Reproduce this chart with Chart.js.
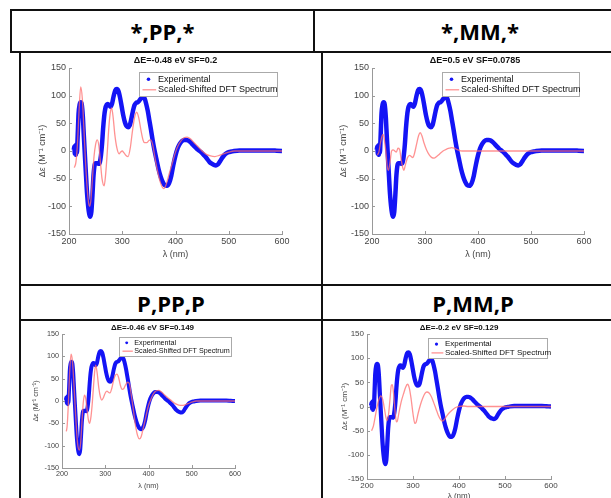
<!DOCTYPE html>
<html>
<head>
<meta charset="utf-8">
<script src="https://cdn.jsdelivr.net/npm/chart.js@4"></script>
<style>
  html, body { margin: 0; padding: 0; background: #fff; overflow: hidden; width: 611px; height: 498px; }
  .ln { position: absolute; background: #111; }
  .hd { position: absolute; display: flex; align-items: center; justify-content: center;
        font-family: 'Open Sans', sans-serif; font-weight: 700; font-size: 22px; color: #000; }
  canvas { position: absolute; }
</style>
</head>
<body>
<!-- table lines -->
<div class="ln" style="left:10px;top:9px;width:640px;height:2px"></div>
<div class="ln" style="left:10px;top:51px;width:640px;height:2px"></div>
<div class="ln" style="left:10px;top:9px;width:2px;height:44px"></div>
<div class="ln" style="left:313px;top:9px;width:2px;height:44px"></div>
<div class="ln" style="left:19px;top:51px;width:2px;height:460px"></div>
<div class="ln" style="left:321px;top:51px;width:2px;height:460px"></div>
<div class="ln" style="left:19px;top:284px;width:620px;height:2px"></div>
<div class="ln" style="left:19px;top:319px;width:620px;height:2px"></div>

<div class="hd" style="left:12px;top:11px;width:301px;height:40px">*,PP,*</div>
<div class="hd" style="left:315px;top:11px;width:330px;height:40px">*,MM,*</div>
<div class="hd" style="left:21px;top:286px;width:300px;height:33px">P,PP,P</div>
<div class="hd" style="left:323px;top:286px;width:300px;height:33px">P,MM,P</div>

<canvas id="c1"></canvas>
<canvas id="c2"></canvas>
<canvas id="c3"></canvas>
<canvas id="c4"></canvas>

<script>
// experimental CD spectrum (same in every panel)
const expNm = [209,210,211,212,213,214,215,216,217,218,
  220,222,224,226,228,230,232,234,236,238,240,242,244,246,248,250,
  253,256,258,260,262,264,266,268,
  271,273,275,278,281,284,287,290,293,296,299,302,305,308,311,314,317,320,323,326,329,332,
  336,339,342,345,348,351,354,357,360,
  364,368,372,376,380,384,388,392,396,400,404,408,412,416,420,424,428,432,436,440,444,448,
  452,456,460,464,468,472,476,480,484,488,492,496,500,
  505,510,520,530,540,550,560,570,580,590,600]
const expDe = [2,8,-5,10,-7,12,-3,20,45,68,
  84,88,84,62,25,-10,-45,-78,-100,-114,-119,-110,-80,-45,-26,-22,
  -22,-23,-20,-8,12,40,62,76,
  84,85,83,80,86,100,110,112,108,96,80,64,52,45,43,46,58,72,83,87,88,91,
  96,98,95,85,72,55,38,20,4,
  -14,-32,-46,-56,-62,-63,-58,-45,-25,-8,5,13,18,20,20,19,16,12,8,4,1,-2,
  -6,-10,-15,-20,-23,-25,-26,-24,-18,-12,-7,-4,-2,
  -1,0,1,1,1,1,1,1,1,0.5,0]

// scaled-shifted DFT spectra
const ppStarNm = [210,213,216,219,222,225,228,231,234,237,239,241,244,247,250,253,256,259,262,266,
  269,272,275,278,280,283,286,290,294,297,300,303,307,311,315,319,323,327,331,335,
  339,342,346,350,353,357,361,366,371,375,378,382,387,393,400,405,410,416,422,428,
  435,442,450,458,466,474,482,490,500,510,600]
const ppStarDe = [-30,-20,15,75,116,95,40,-20,-65,-95,-100,-90,-50,-10,12,20,10,-20,-50,-63,
  -40,0,45,72,78,60,30,5,-5,-2,0,-3,-8,-10,5,35,60,70,60,38,
  20,15,15,19,20,12,-10,-35,-55,-65,-68,-62,-45,-25,-2,10,18,24,25,22,
  15,8,0,-6,-9,-10,-8,-5,-2,0,0]

const mmStarNm = [210,213,216,219,221,223,226,229,231,234,237,240,243,246,249,252,255,258,260,263,
  267,271,274,277,280,284,288,291,294,298,303,308,313,317,322,328,334,340,346,350,
  355,362,370,600]
const mmStarDe = [-7,-2,15,27,30,22,0,-30,-35,-20,0,2,0,-2,5,3,-15,-30,-35,-25,
  -12,-8,-10,-12,-5,12,28,33,28,15,2,-7,-12,-13,-10,-5,0,3,5,6,
  5,2,0,0]

const pPPpNm = [210,212,215,218,221,224,228,232,236,240,243,246,249,252,255,258,261,264,267,270,
  273,276,278,281,285,289,292,296,300,304,308,311,315,319,323,327,331,335,339,343,
  347,352,356,360,365,370,375,379,383,388,394,400,406,412,418,424,430,438,446,454,
  462,470,478,486,494,502,510,600]
const pPPpDe = [-68,-55,0,70,105,90,30,-40,-95,-110,-95,-50,-5,13,5,-20,-42,-50,-35,-5,
  35,70,80,65,30,8,2,8,18,22,19,18,28,45,57,60,52,35,26,28,
  36,42,38,15,-20,-55,-78,-85,-80,-60,-35,-10,5,17,23,24,20,13,6,0,
  -6,-9,-10,-8,-5,-2,0,0]

const pMMpNm = [210,214,218,222,226,230,234,238,241,244,247,250,253,255,258,261,264,266,270,275,
  280,284,288,292,296,300,304,307,311,316,321,326,330,335,340,345,350,355,360,364,
  368,373,380,388,395,400,410,420,600]
const pMMpDe = [-50,-40,-20,0,15,22,15,-5,-22,-29,-15,15,44,45,25,-10,-32,-30,-10,12,
  28,40,46,38,15,-15,-35,-32,-15,3,17,27,30,28,20,8,-5,-18,-27,-30,
  -27,-20,-12,-5,-1,0,1,0,0]

const panelTitles = ['ΔE=-0.48 eV SF=0.2', 'ΔE=0.5 eV SF=0.0785', 'ΔE=-0.46 eV SF=0.149', 'ΔE=-0.2 eV SF=0.129']
const seriesNames = ['Experimental', 'Scaled-Shifted DFT Spectrum']

const FAMILY = "'Liberation Sans', Arial, Helvetica, sans-serif"
const BLUE = '#1414f5'
const RED = 'rgba(255,110,110,0.75)'

const pairs = (xs, ys) => xs.map((x, i) => ({ x, y: ys[i] }))

// inline plugin: matlab-ish title, inward ticks and boxed legend
function decor(p) {
  return {
    id: 'decor',
    afterDraw(chart) {
      const ctx = chart.ctx
      const a = chart.chartArea
      ctx.save()
      // inward tick marks
      ctx.strokeStyle = '#999'
      ctx.lineWidth = 1
      chart.scales.x.ticks.forEach((t) => {
        const px = Math.round(chart.scales.x.getPixelForValue(t.value)) + 0.5
        ctx.beginPath(); ctx.moveTo(px, a.bottom); ctx.lineTo(px, a.bottom - 3); ctx.stroke()
      })
      chart.scales.y.ticks.forEach((t) => {
        const py = Math.round(chart.scales.y.getPixelForValue(t.value)) + 0.5
        ctx.beginPath(); ctx.moveTo(a.left, py); ctx.lineTo(a.left + 3, py); ctx.stroke()
      })
      // title
      ctx.fillStyle = '#111'
      ctx.font = `bold ${p.titleSize}px ${FAMILY}`
      ctx.textAlign = 'center'
      ctx.textBaseline = 'middle'
      ctx.fillText(p.title, (a.left + a.right) / 2 + p.titleDx, p.titleY)
      // legend
      const lx = Math.round(a.right - p.legRight - p.legW) + 0.5
      const ly = Math.round(a.top + p.legTop) + 0.5
      ctx.fillStyle = '#fff'
      ctx.fillRect(lx, ly, p.legW, p.legH)
      ctx.strokeStyle = '#aaa'
      ctx.strokeRect(lx, ly, p.legW, p.legH)
      const r1 = ly + p.legH * 0.28
      const r2 = ly + p.legH * 0.72
      ctx.fillStyle = BLUE
      ctx.beginPath(); ctx.arc(lx + p.fs, r1, p.fs * 0.2, 0, Math.PI * 2); ctx.fill()
      ctx.strokeStyle = RED
      ctx.lineWidth = 1.3
      ctx.beginPath(); ctx.moveTo(lx + 3, r2); ctx.lineTo(lx + p.fs * 1.85, r2); ctx.stroke()
      ctx.fillStyle = '#111'
      ctx.font = `${p.fs}px ${FAMILY}`
      ctx.textAlign = 'left'
      ctx.fillText(seriesNames[0], lx + p.fs * 2.05, r1)
      ctx.fillText(seriesNames[1], lx + p.fs * 2.05, r2)
      ctx.restore()
    }
  }
}

function drawPanel(id, p, dftNm, dftDe) {
  const cv = document.getElementById(id)
  cv.style.left = p.x + 'px'
  cv.style.top = p.y + 'px'
  cv.width = p.w
  cv.height = p.h
  const font = { family: FAMILY, size: p.fs }
  const tickColor = '#444'
  return new Chart(cv, {
    type: 'line',
    data: {
      datasets: [
        {
          label: seriesNames[0],
          data: pairs(expNm, expDe),
          borderColor: BLUE,
          borderWidth: p.expWidth,
          pointRadius: 0,
          cubicInterpolationMode: 'monotone',
          order: 2
        },
        {
          label: seriesNames[1],
          data: pairs(dftNm, dftDe),
          borderColor: RED,
          borderWidth: 1.3,
          pointRadius: 0,
          cubicInterpolationMode: 'monotone',
          order: 1
        }
      ]
    },
    options: {
      responsive: false,
      animation: false,
      layout: { padding: { left: p.padL, top: p.padT, right: p.padR, bottom: p.padB } },
      scales: {
        x: {
          type: 'linear',
          min: 200,
          max: 600,
          ticks: { stepSize: 100, font, color: tickColor, padding: 2, maxRotation: 0 },
          grid: { drawOnChartArea: false, drawTicks: false },
          border: { color: '#999' },
          title: { display: true, text: 'λ (nm)', font, color: tickColor, padding: 0 },
          afterFit: (s) => { s.height = p.xh }
        },
        y: {
          min: -150,
          max: 150,
          ticks: { stepSize: 50, font, color: tickColor, padding: 3 },
          grid: { drawOnChartArea: false, drawTicks: false },
          border: { color: '#999' },
          title: { display: true, text: 'Δε (M⁻¹ cm⁻¹)', font, color: tickColor, padding: 0 },
          afterFit: (s) => { s.width = p.yw }
        }
      },
      plugins: {
        legend: { display: false },
        title: { display: false },
        tooltip: { enabled: false }
      }
    },
    plugins: [decor(p)]
  })
}

drawPanel('c1', {
  x: 21, y: 53, w: 290, h: 230, padL: 16, padT: 15, padR: 29, padB: 23, yw: 32, xh: 26,
  fs: 9, titleSize: 9, title: panelTitles[0], titleY: 8, titleDx: 0, expWidth: 4.5,
  legRight: 5, legTop: 4, legW: 138, legH: 24
}, ppStarNm, ppStarDe)

drawPanel('c2', {
  x: 323, y: 53, w: 288, h: 230, padL: 15, padT: 15, padR: 27, padB: 23, yw: 34, xh: 26,
  fs: 9, titleSize: 9, title: panelTitles[1], titleY: 8, titleDx: -3, expWidth: 4.5,
  legRight: 5, legTop: 4, legW: 137, legH: 24
}, mmStarNm, mmStarDe)

drawPanel('c3', {
  x: 21, y: 321, w: 300, h: 177, padL: 11, padT: 13, padR: 86, padB: 8, yw: 30, xh: 22,
  fs: 7.2, titleSize: 8, title: panelTitles[2], titleY: 7, titleDx: 4, expWidth: 4,
  legRight: 4, legTop: 3, legW: 112, legH: 19
}, pPPpNm, pPPpDe)

drawPanel('c4', {
  x: 323, y: 321, w: 288, h: 180, padL: 17, padT: 13, padR: 60, padB: 0, yw: 27, xh: 22,
  fs: 8, titleSize: 8, title: panelTitles[3], titleY: 7, titleDx: 0, expWidth: 4.3,
  legRight: 4, legTop: 4, legW: 119, legH: 20
}, pMMpNm, pMMpDe)
</script>
</body>
</html>
